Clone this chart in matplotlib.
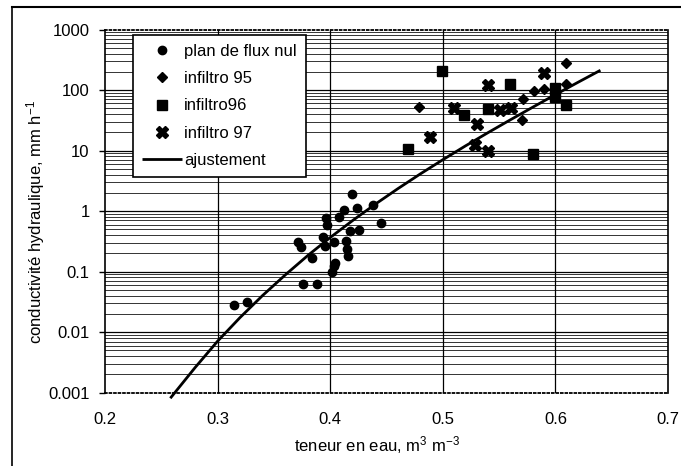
import matplotlib
matplotlib.use("Agg")
import matplotlib.pyplot as plt
from matplotlib.lines import Line2D
from matplotlib.ticker import FixedLocator, NullFormatter

plt.rcParams['font.family'] = ['Liberation Sans', 'DejaVu Sans']
plt.rcParams['mathtext.default'] = 'regular'

# plan de flux nul
theta_flux = [0.315, 0.326, 0.371, 0.374, 0.376, 0.384, 0.388, 0.394, 0.395,
              0.396, 0.397, 0.402, 0.403, 0.403, 0.404, 0.408, 0.412, 0.414,
              0.415, 0.416, 0.418, 0.419, 0.424, 0.426, 0.438, 0.445]
k_flux = [0.028, 0.032, 0.31, 0.26, 0.063, 0.17, 0.063, 0.37, 0.27,
          0.76, 0.58, 0.10, 0.31, 0.125, 0.14, 0.80, 1.03, 0.32,
          0.24, 0.18, 0.47, 1.95, 1.14, 0.48, 1.25, 0.64]

# infiltro 95
theta_95 = [0.479, 0.570, 0.571, 0.581, 0.590, 0.609, 0.609]
k_95 = [53, 32, 72, 97, 105, 278, 128]

# infiltro96
theta_96 = [0.469, 0.499, 0.519, 0.540, 0.560, 0.580, 0.600, 0.600, 0.609]
k_96 = [10.5, 208, 38, 49, 126, 8.7, 108, 78, 57]

# infiltro 97
theta_97 = [0.489, 0.510, 0.529, 0.530, 0.540, 0.540, 0.551, 0.561, 0.590]
k_97 = [16.6, 51, 12.3, 27.6, 122, 9.8, 46, 51, 190]

# ajustement
theta_fit = [0.258, 0.28, 0.30, 0.32, 0.34, 0.36, 0.38, 0.40, 0.42, 0.44,
             0.46, 0.48, 0.50, 0.52, 0.54, 0.56, 0.58, 0.60, 0.62, 0.64]
k_fit = [0.00081, 0.0026, 0.0071, 0.0175, 0.0404, 0.088, 0.184, 0.366,
         0.70, 1.30, 2.34, 4.11, 7.05, 11.9, 19.7, 32.2, 52.2, 84.0, 134, 212]

x_ticks = [0.2, 0.3, 0.4, 0.5, 0.6, 0.7]
x_labels = ['0.2', '0.3', '0.4', '0.5', '0.6', '0.7']
y_ticks = [0.001, 0.01, 0.1, 1, 10, 100, 1000]
y_labels = ['0.001', '0.01', '0.1', '1', '10', '100', '1000']

fig = plt.figure(figsize=(6.81, 4.66), dpi=100)
ax = fig.add_axes([105 / 681, 1 - 392.7 / 466, 563 / 681, 363.2 / 466])

ax.set_yscale('log')
ax.set_xlim(0.2, 0.7)
ax.set_ylim(0.001, 1000)

# grid
minors = [m * 10.0 ** e for e in range(-3, 3) for m in range(2, 10)]
for v in minors:
    ax.axhline(v, color='#333333', lw=0.7, zorder=0)
for v in y_ticks[1:-1]:
    ax.axhline(v, color='black', lw=0.9, zorder=0)
for v in x_ticks[1:-1]:
    ax.axvline(v, color='black', lw=0.9, zorder=0)

ax.plot(theta_flux, k_flux, 'o', color='black', ms=6, ls='none',
        label='plan de flux nul', zorder=3)
ax.plot(theta_95, k_95, 'D', color='black', ms=5.5, ls='none',
        label='infiltro 95', zorder=3)
ax.plot(theta_96, k_96, 's', color='black', ms=6.5, ls='none',
        label='infiltro96', zorder=3)
ax.plot(theta_97, k_97, 'X', color='black', ms=8, ls='none',
        label='infiltro 97', zorder=3)
ax.plot(theta_fit, k_fit, '-', color='black', lw=2.0, label='ajustement',
        zorder=4, clip_on=False, solid_capstyle='butt')

ax.xaxis.set_major_locator(FixedLocator(x_ticks))
ax.set_xticklabels(x_labels)
ax.yaxis.set_major_locator(FixedLocator(y_ticks))
ax.yaxis.set_minor_locator(FixedLocator([]))
ax.yaxis.set_minor_formatter(NullFormatter())
ax.set_yticklabels(y_labels)
ax.tick_params(axis='x', length=0, pad=14, labelsize=12)
ax.tick_params(axis='y', length=4, width=1, pad=7, labelsize=12, direction='out')

for side in ['top', 'bottom']:
    ax.spines[side].set_linestyle((0, (1, 1.5)))
    ax.spines[side].set_linewidth(1.3)
for side in ['left', 'right']:
    ax.spines[side].set_linewidth(1.2)

ax.set_xlabel('teneur en eau, m$^{3}$ m$^{-3}$', fontsize=12)
ax.xaxis.set_label_coords(0.483, -0.114)
ax.set_ylabel('conductivité hydraulique, mm h$^{-1}$', fontsize=12)
ax.yaxis.set_label_coords(-0.103, 0.47)

leg = ax.legend(loc='upper left', bbox_to_anchor=(0.05, 0.986), fontsize=12,
                frameon=True, fancybox=False, framealpha=1, edgecolor='black',
                borderpad=0.55, handlelength=2.4, handletextpad=0.1,
                labelspacing=0.74, borderaxespad=0, numpoints=1)
leg.get_frame().set_linewidth(1.2)
leg.set_zorder(5)

# outer frame of the scanned figure
fig.add_artist(Line2D([12 / 681, 12 / 681], [0, 1 - 7 / 466], color='black', lw=1.2))
fig.add_artist(Line2D([12 / 681, 1], [1 - 7 / 466, 1 - 7 / 466], color='black', lw=1.5))

fig.savefig('out.png', dpi=100)
